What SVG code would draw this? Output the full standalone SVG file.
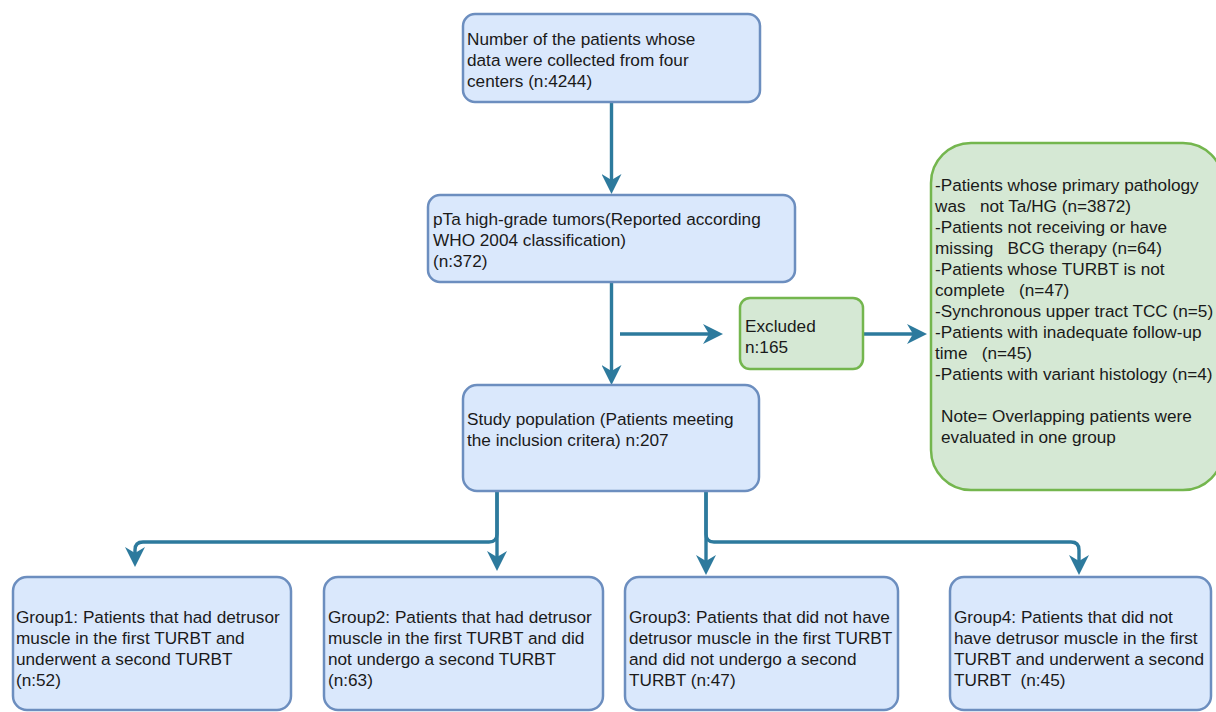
<svg xmlns="http://www.w3.org/2000/svg" width="1216" height="712" viewBox="0 0 1216 712">
<defs>
<style>
.b{fill:#dae8fc;stroke:#6c8ebf;stroke-width:2.5}
.g{fill:#d5e8d4;stroke:#74b64e;stroke-width:2.5}
.t{font-family:"Liberation Sans",Arial,sans-serif;font-size:17.2px;fill:#1a1a1a;white-space:pre}
.c{fill:none;stroke:#2d7a9d;stroke-width:3.4;marker-end:url(#ah)}
</style>
<marker id="ah" viewBox="0 0 20 20" refX="14" refY="10" markerWidth="20" markerHeight="20" markerUnits="userSpaceOnUse" orient="auto">
<path d="M0,0 L20,10 L0,20 L6,10 Z" fill="#2d7a9d"/>
</marker>
</defs>
<rect width="1216" height="712" fill="#ffffff"/>
<g id="connectors">
<path class="c" d="M611.5,102 V188"/>
<path class="c" d="M611.5,283 V379"/>
<path class="c" d="M620,334 H717"/>
<path class="c" d="M863,334 H921"/>
<path class="c" d="M497,491 V534 Q497,542 489,542 H143 Q135,542 135,550 V561"/>
<path class="c" d="M497,491 V565"/>
<path class="c" d="M706,491 V569"/>
<path class="c" d="M706,491 V534 Q706,542 714,542 H1071 Q1079,542 1079,550 V569"/>
</g>
<g id="node-total">
<rect class="b" x="463" y="14" width="297" height="88" rx="12"/>
<text class="t" x="467" y="45">Number of the patients whose</text>
<text class="t" x="467" y="66">data were collected from four</text>
<text class="t" x="467" y="87">centers (n:4244)</text>
</g>
<g id="node-pta">
<rect class="b" x="428" y="195" width="367" height="87" rx="12"/>
<text class="t" x="433" y="225">pTa high-grade tumors(Reported according</text>
<text class="t" x="433" y="246">WHO 2004 classification)</text>
<text class="t" x="433" y="267">(n:372)</text>
</g>
<g id="node-excluded">
<rect class="g" x="740" y="298" width="123" height="71" rx="10"/>
<text class="t" x="745" y="332">Excluded</text>
<text class="t" x="745" y="353">n:165</text>
</g>
<g id="node-reasons">
<rect class="g" x="931" y="143" width="292" height="347" rx="40"/>
<text class="t" x="935" y="191">-Patients whose primary pathology</text>
<text class="t" x="935" y="212" xml:space="preserve">was   not Ta/HG (n=3872)</text>
<text class="t" x="935" y="233">-Patients not receiving or have</text>
<text class="t" x="935" y="254" xml:space="preserve">missing   BCG therapy (n=64)</text>
<text class="t" x="935" y="275">-Patients whose TURBT is not</text>
<text class="t" x="935" y="296" xml:space="preserve">complete   (n=47)</text>
<text class="t" x="935" y="317">-Synchronous upper tract TCC (n=5)</text>
<text class="t" x="935" y="338">-Patients with inadequate follow-up</text>
<text class="t" x="935" y="359" xml:space="preserve">time   (n=45)</text>
<text class="t" x="935" y="380">-Patients with variant histology (n=4)</text>
<text class="t" x="941" y="422">Note= Overlapping patients were</text>
<text class="t" x="941" y="443">evaluated in one group</text>
</g>
<g id="node-study">
<rect class="b" x="463" y="385" width="296" height="106" rx="14"/>
<text class="t" x="467" y="425">Study population (Patients meeting</text>
<text class="t" x="467" y="446">the inclusion critera) n:207</text>
</g>
<g id="node-group1">
<rect class="b" x="13" y="577" width="278" height="133" rx="14"/>
<text class="t" x="16" y="623">Group1: Patients that had detrusor</text>
<text class="t" x="16" y="644">muscle in the first TURBT and</text>
<text class="t" x="16" y="665">underwent a second TURBT</text>
<text class="t" x="16" y="686">(n:52)</text>
</g>
<g id="node-group2">
<rect class="b" x="324" y="577" width="279" height="133" rx="14"/>
<text class="t" x="328" y="623">Group2: Patients that had detrusor</text>
<text class="t" x="328" y="644">muscle in the first TURBT and did</text>
<text class="t" x="328" y="665">not undergo a second TURBT</text>
<text class="t" x="328" y="686">(n:63)</text>
</g>
<g id="node-group3">
<rect class="b" x="625" y="577" width="273" height="133" rx="14"/>
<text class="t" x="629" y="623">Group3: Patients that did not have</text>
<text class="t" x="629" y="644">detrusor muscle in the first TURBT</text>
<text class="t" x="629" y="665">and did not undergo a second</text>
<text class="t" x="629" y="686">TURBT (n:47)</text>
</g>
<g id="node-group4">
<rect class="b" x="950" y="577" width="261" height="133" rx="14"/>
<text class="t" x="954" y="623">Group4: Patients that did not</text>
<text class="t" x="954" y="644">have detrusor muscle in the first</text>
<text class="t" x="954" y="665">TURBT and underwent a second</text>
<text class="t" x="954" y="686" xml:space="preserve">TURBT  (n:45)</text>
</g>
</svg>
